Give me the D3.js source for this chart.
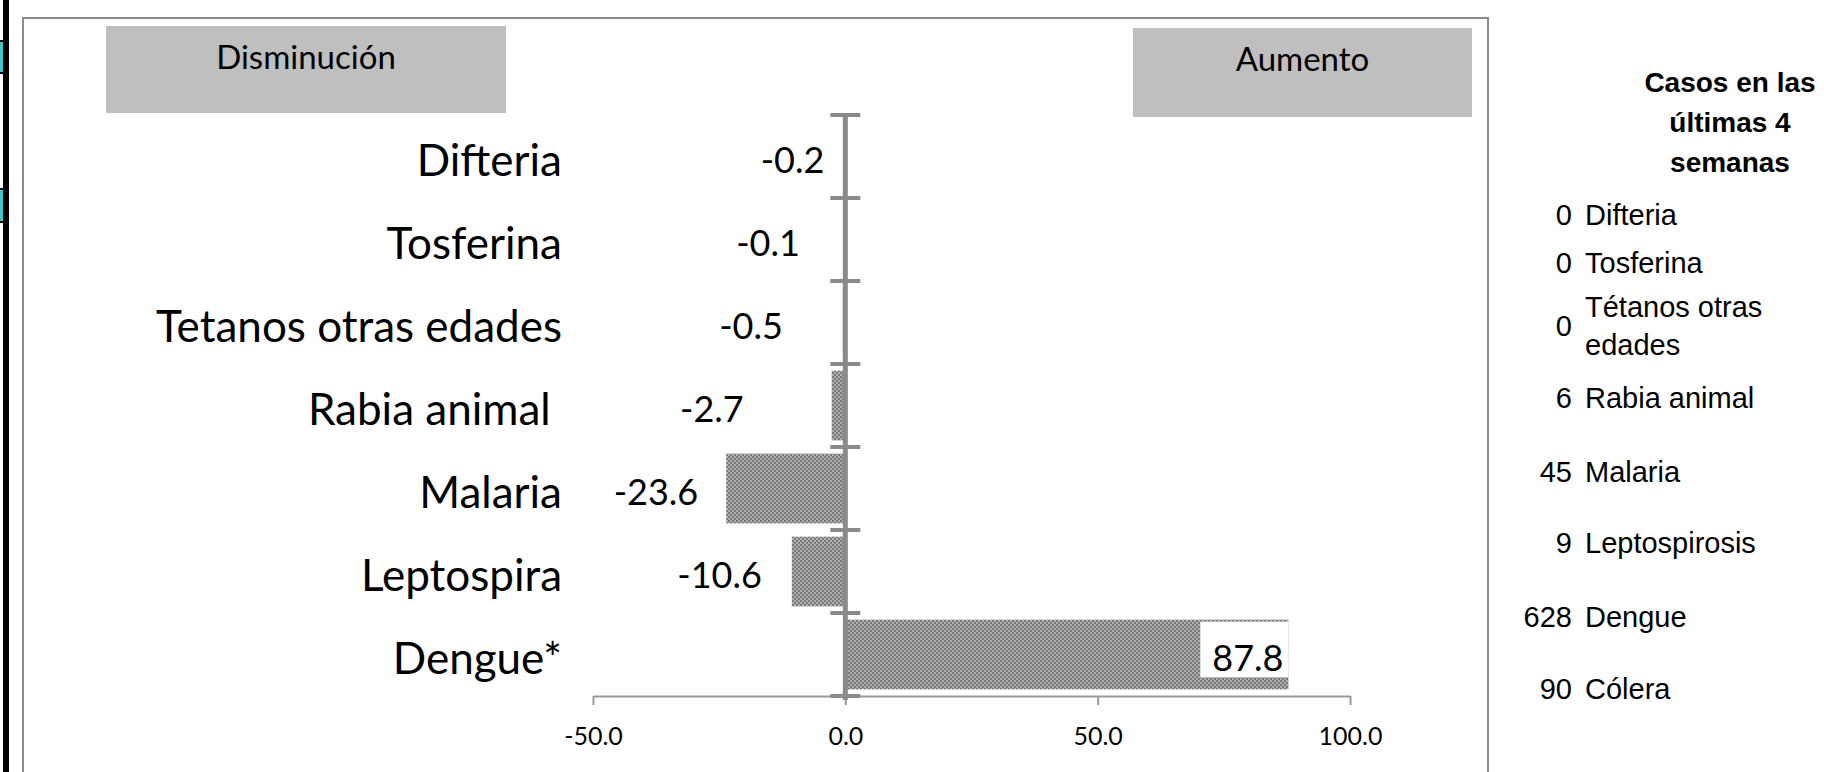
<!DOCTYPE html>
<html>
<head>
<meta charset="utf-8">
<script src="https://cdn.jsdelivr.net/npm/d3@7"></script>
<style>
  body { margin: 0; background: #fff; }
  svg { display: block; }
</style>
</head>
<body>
<svg id="chart" width="1824" height="772"></svg>
<script>
// chart values
const categories = ['Difteria', 'Tosferina', 'Tetanos otras edades', 'Rabia animal ', 'Malaria', 'Leptospira', 'Dengue*'];
const changes = [-0.2, -0.1, -0.5, -2.7, -23.6, -10.6, 87.8];
const xTicks = [-50, 0, 50, 100];
const sideLabels = ['Disminución', 'Aumento'];

// right-hand table
const panelTitle = ['Casos en las', 'últimas 4', 'semanas'];
const caseCounts = [0, 0, 0, 6, 45, 9, 628, 90];
const caseNames = ['Difteria', 'Tosferina', 'Tétanos otras edades', 'Rabia animal', 'Malaria', 'Leptospirosis', 'Dengue', 'Cólera'];

// layout bits (hand placed labels, like in the original sheet)
const labelNudge = [20, 45, 60, 88, 28, 30, 0];
const rowBaselines = [225, 273, 336, 408, 482, 553, 627, 699];

const svg = d3.select('#chart');
const width = +svg.attr('width');
const height = +svg.attr('height');

const plot = { left: 593, right: 1350, top: 115, bottom: 696 };

const xScale = d3.scaleLinear()
  .domain([-50, 100])
  .range([plot.left, plot.right]);

const yScale = d3.scaleBand()
  .domain(categories)
  .range([plot.top, plot.bottom])
  .paddingInner(0.16)
  .paddingOuter(0.08);

// bar texture
const defs = svg.append('defs');
const pat = defs.append('pattern')
  .attr('id', 'dots')
  .attr('width', 4).attr('height', 4)
  .attr('patternUnits', 'userSpaceOnUse');
pat.append('rect').attr('width', 4).attr('height', 4).attr('fill', '#b0b0b0');
pat.append('rect').attr('width', 2).attr('height', 2).attr('fill', '#787878');
pat.append('rect').attr('x', 2).attr('y', 2).attr('width', 2).attr('height', 2).attr('fill', '#787878');

// left edge strip
svg.append('rect').attr('x', 3).attr('y', 0).attr('width', 6).attr('height', height).attr('fill', '#000');
[[42, 72], [190, 221]].forEach(([a, b]) => {
  svg.append('rect').attr('x', 0).attr('y', a).attr('width', 3).attr('height', b - a).attr('fill', '#3cc8c8');
  svg.append('rect').attr('x', 0).attr('y', a - 2).attr('width', 9).attr('height', 2).attr('fill', '#000');
  svg.append('rect').attr('x', 0).attr('y', b).attr('width', 9).attr('height', 2).attr('fill', '#000');
});

// chart frame
svg.append('rect')
  .attr('x', 23).attr('y', 18)
  .attr('width', 1488 - 23).attr('height', 800)
  .attr('fill', 'none')
  .attr('stroke', '#8c8c8c')
  .attr('stroke-width', 2);

// Disminución / Aumento boxes
const boxes = [
  { text: sideLabels[0], x0: 106, x1: 506, y0: 26, y1: 113 },
  { text: sideLabels[1], x0: 1133, x1: 1472, y0: 28, y1: 117 }
];
const boxG = svg.selectAll('.side-box').data(boxes).enter().append('g').attr('class', 'side-box');
boxG.append('rect')
  .attr('x', d => d.x0).attr('y', d => d.y0)
  .attr('width', d => d.x1 - d.x0).attr('height', d => d.y1 - d.y0)
  .attr('fill', '#bfbfbf');
boxG.append('text')
  .attr('x', d => (d.x0 + d.x1) / 2)
  .attr('y', d => d.y0 + 43)
  .attr('text-anchor', 'middle')
  .style('font-family', 'Lato, sans-serif')
  .style('font-size', '33px')
  .attr('fill', '#000')
  .text(d => d.text);

const g = svg.append('g');

// bars
g.selectAll('.bar').data(changes).enter().append('rect')
  .attr('class', 'bar')
  .attr('x', d => xScale(Math.min(0, d)))
  .attr('y', (d, i) => yScale(categories[i]))
  .attr('width', d => Math.abs(xScale(d) - xScale(0)))
  .attr('height', yScale.bandwidth())
  .attr('fill', 'url(#dots)');

// x axis
const xAxis = d3.axisBottom(xScale)
  .tickValues(xTicks)
  .tickFormat(d3.format('.1f'))
  .tickSize(9)
  .tickSizeOuter(0)
  .tickPadding(22);
const xAxisG = g.append('g')
  .attr('transform', `translate(0,${plot.bottom})`)
  .call(xAxis);
xAxisG.select('.domain').attr('stroke', '#999').attr('stroke-width', 2);
xAxisG.selectAll('.tick line').attr('stroke', '#999').attr('stroke-width', 2);
xAxisG.selectAll('.tick text')
  .style('font-family', 'Lato, sans-serif')
  .style('font-size', '25px')
  .attr('fill', '#000')
  .text(d => d3.format('.1f')(d).replace('−', '-'));

// category axis at zero with crossing ticks
const x0 = xScale(0);
g.append('line')
  .attr('x1', x0).attr('x2', x0)
  .attr('y1', plot.top).attr('y2', plot.bottom + 4)
  .attr('stroke', '#8a8a8a').attr('stroke-width', 5);
const step = (plot.bottom - plot.top) / categories.length;
const bounds = d3.range(categories.length + 1).map(i => plot.top + i * step);
g.selectAll('.cat-tick').data(bounds).enter().append('line')
  .attr('class', 'cat-tick')
  .attr('x1', x0 - 15).attr('x2', x0 + 15)
  .attr('y1', d => d).attr('y2', d => d)
  .attr('stroke', '#8a8a8a').attr('stroke-width', 4);

// category labels
g.selectAll('.cat-label').data(categories).enter().append('text')
  .attr('class', 'cat-label')
  .attr('x', 562)
  .attr('y', d => yScale(d) + yScale.bandwidth() / 2 + 4)
  .attr('dy', '0.36em')
  .attr('text-anchor', 'end')
  .style('white-space', 'pre')
  .style('font-family', 'Lato, sans-serif')
  .style('font-size', '44px')
  .attr('fill', '#000')
  .text(d => d);

// value labels
const valueLabels = g.selectAll('.val').data(changes).enter().append('text')
  .attr('class', 'val')
  .attr('x', (d, i) => d < 0 ? xScale(d) - labelNudge[i] : xScale(d) - 5)
  .attr('y', (d, i) => yScale(categories[i]) + yScale.bandwidth() / 2 + 4)
  .attr('dy', '0.36em')
  .attr('text-anchor', 'end')
  .style('font-family', 'Lato, sans-serif')
  .style('font-size', '36px')
  .attr('fill', '#000')
  .text(d => d3.format('.1f')(d).replace('−', '-'));

// white box behind the positive label
valueLabels.filter(d => d > 0).each(function (d) {
  const bb = this.getBBox();
  const idx = changes.indexOf(d);
  const top = yScale(categories[idx]);
  g.insert('rect', '.val')
    .attr('x', bb.x - 12)
    .attr('y', top + 2)
    .attr('width', xScale(d) - (bb.x - 12))
    .attr('height', yScale.bandwidth() - 14)
    .attr('fill', '#fff');
});

// right-hand table
const side = svg.append('g').style('font-family', '"Liberation Sans", Arial, sans-serif');
side.selectAll('.ptitle').data(panelTitle).enter().append('text')
  .attr('x', 1730)
  .attr('y', (d, i) => 92 + i * 40)
  .attr('text-anchor', 'middle')
  .style('font-size', '28px')
  .style('font-weight', 'bold')
  .attr('fill', '#000')
  .text(d => d);

const numX = 1572;
const nameX = 1585;
const wrapWidth = 230;
const rows = side.selectAll('.row').data(caseNames).enter().append('g').attr('class', 'row');
rows.append('text')
  .attr('x', numX)
  .attr('y', (d, i) => rowBaselines[i])
  .attr('text-anchor', 'end')
  .style('font-size', '29px')
  .attr('fill', '#000')
  .text((d, i) => caseCounts[i]);
rows.each(function (d, i) {
  const t = d3.select(this).append('text')
    .attr('x', nameX)
    .style('font-size', '29px')
    .attr('fill', '#000');
  // simple word wrap
  const words = d.split(' ');
  const lines = [];
  let line = [];
  const probe = t.append('tspan');
  words.forEach(w => {
    line.push(w);
    probe.text(line.join(' '));
    if (probe.node().getComputedTextLength() > wrapWidth && line.length > 1) {
      line.pop();
      lines.push(line.join(' '));
      line = [w];
    }
  });
  lines.push(line.join(' '));
  probe.remove();
  const lh = 38;
  const first = rowBaselines[i] - (lines.length - 1) * lh / 2;
  lines.forEach((l, k) => {
    t.append('tspan').attr('x', nameX).attr('y', first + k * lh).text(l);
  });
});
</script>
</body>
</html>
